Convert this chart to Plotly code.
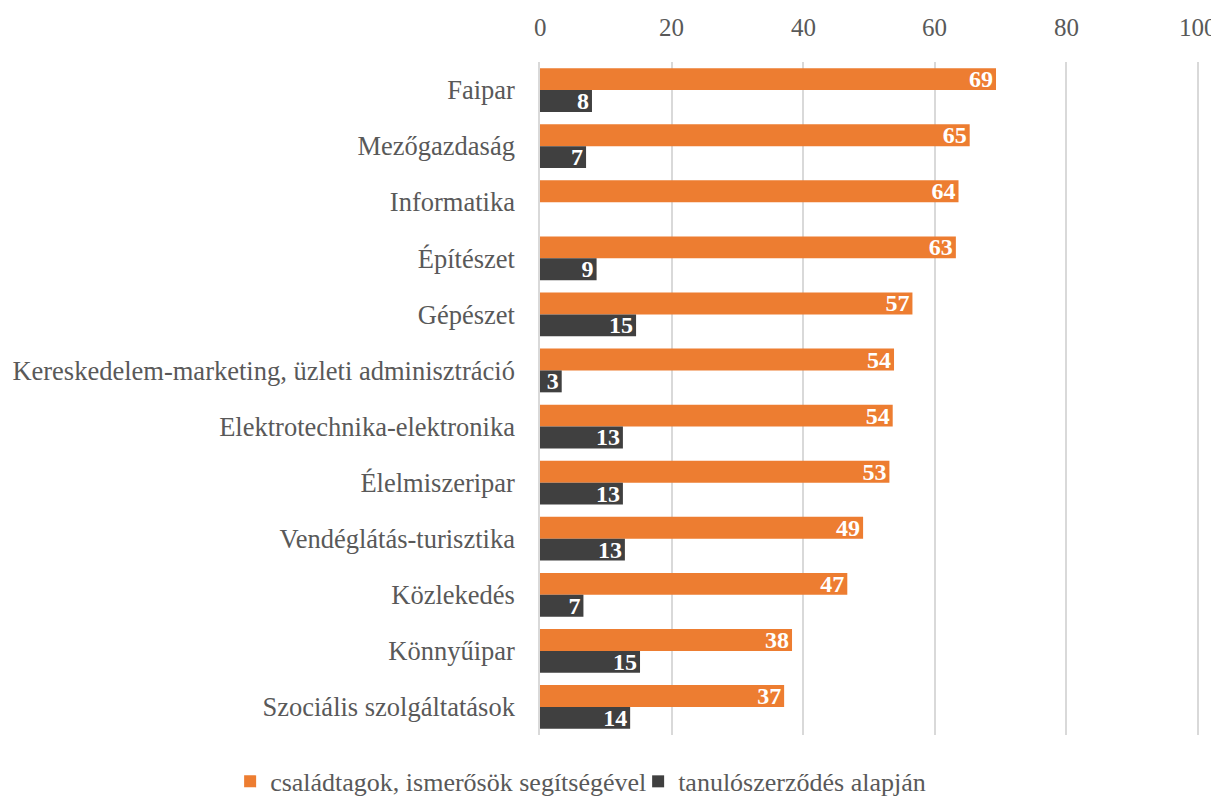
import plotly.graph_objects as go

categories = ["Faipar", "Mezőgazdaság", "Informatika", "Építészet", "Gépészet",
              "Kereskedelem-marketing, üzleti adminisztráció", "Elektrotechnika-elektronika",
              "Élelmiszeripar", "Vendéglátás-turisztika", "Közlekedés", "Könnyűipar",
              "Szociális szolgáltatások"]
family_vals = [69.3, 65.3, 63.6, 63.2, 56.6, 53.8, 53.6, 53.1, 49.1, 46.7, 38.3, 37.1]
contract_vals = [7.9, 7.0, None, 8.6, 14.6, 3.3, 12.6, 12.6, 12.9, 6.6, 15.2, 13.7]
series_names = ["családtagok, ismerősök segítségével", "tanulószerződés alapján"]
tick_vals = [0, 20, 40, 60, 80, 100]
tick_labels = ["0", "20", "40", "60", "80", "100"]

FONT = "Palatino Linotype, Book Antiqua, Palatino, Liberation Serif, serif"
GREY = "#595959"
X_RANGE = [0, 100.3]

fig = go.Figure()
for name, vals, col in [(series_names[0], family_vals, "#ED7D31"),
                        (series_names[1], contract_vals, "#404040")]:
    fig.add_trace(go.Bar(
        y=categories, x=vals, name=name, orientation="h",
        marker=dict(color=col, line=dict(width=0)),
        texttemplate="<b>%{x:.0f}</b>", textposition="inside", textangle=0,
        insidetextanchor="end", constraintext="none",
        textfont=dict(color="white", size=24, family=FONT),
    ))

# value-axis labels along the top edge, placed through the x axis scale
for v, lab in zip(tick_vals, tick_labels):
    fig.add_annotation(x=v, xref="x", y=1, yref="paper", text=lab,
                       showarrow=False, yanchor="middle", yshift=35,
                       font=dict(size=25, color=GREY, family=FONT))

fig.update_layout(
    width=1211, height=790,
    barmode="group", bargap=0.22, bargroupgap=0,
    margin=dict(l=532, r=19, t=54, b=63, autoexpand=False),
    paper_bgcolor="white", plot_bgcolor="white",
    font=dict(family=FONT, color=GREY, size=25),
    legend=dict(orientation="h", xref="paper", yref="paper",
                x=-0.4695, y=-0.069, xanchor="left", yanchor="middle",
                font=dict(size=26, color=GREY), itemwidth=30,
                entrywidth=363, entrywidthmode="pixels",
                traceorder="normal", bgcolor="rgba(0,0,0,0)"),
    xaxis=dict(side="bottom", range=X_RANGE, tickvals=tick_vals,
               showgrid=True, gridcolor="#d9d9d9", gridwidth=1.5,
               zeroline=False, showline=False, ticks="",
               showticklabels=False, automargin=False),
)
fig.update_yaxes(range=[len(categories) - 0.5, -0.5], showline=True,
                 linecolor="#d9d9d9", linewidth=1.5, ticks="",
                 ticklabelstandoff=18, automargin=False,
                 tickfont=dict(size=26.5, color=GREY))

fig.write_html("out.html")
